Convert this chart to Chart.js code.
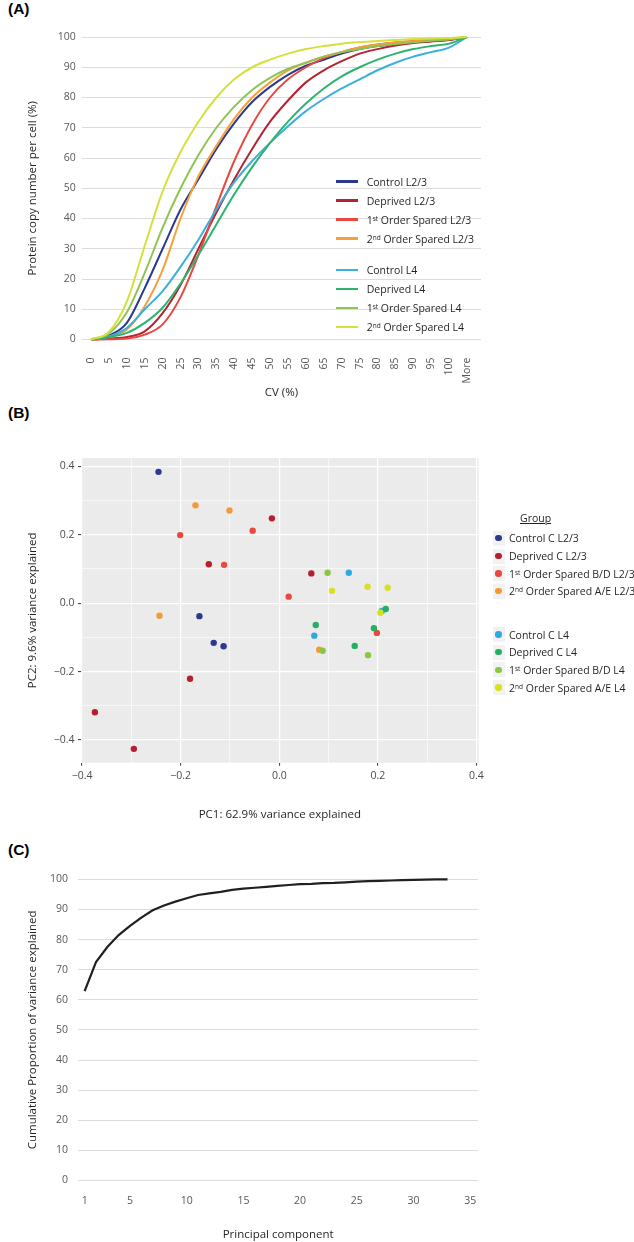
<!DOCTYPE html>
<html><head><meta charset="utf-8">
<script src="https://cdn.jsdelivr.net/npm/chart.js@4/dist/chart.umd.min.js"></script>
<style>
html,body{margin:0;padding:0;background:#fff;}
body{width:634px;height:1242px;overflow:hidden;position:relative;font-family:'Open Sans',sans-serif;color:#231F20;}
canvas{position:absolute;left:0;}
.plab{position:absolute;left:8px;font-family:'Liberation Sans',Arial,sans-serif;font-weight:bold;font-size:15.5px;line-height:18px;color:#000;}
.legrow{position:absolute;height:14px;display:flex;align-items:center;white-space:nowrap;font-size:10.5px;color:#231F20;}
.legrow .sw{display:inline-block;width:22px;height:2.5px;margin-right:8.7px;}
sup{font-size:6.5px;vertical-align:0;position:relative;top:-3px;}
.keybox{position:absolute;width:12px;height:15px;background:#F2F2F2;}
.keydot{position:absolute;width:6.4px;height:6.4px;border-radius:50%;left:2.8px;top:4.3px;}
.bleg{position:absolute;height:14px;line-height:14px;white-space:nowrap;font-size:10.5px;color:#231F20;}
</style>
</head><body>
<div class="plab" style="top:0px">(A)</div>
<div class="plab" style="top:404px">(B)</div>
<div class="plab" style="top:841px">(C)</div>
<canvas id="cA" width="634" height="410" style="top:0px"></canvas>
<canvas id="cB" width="634" height="390" style="top:440px"></canvas>
<canvas id="cC" width="634" height="382" style="top:860px"></canvas>
<div id="legA"></div>
<div id="legB"></div>
<script>
// ---------- Panel A data ----------
const cvLabels = ['0','5','10','15','20','25','30','35','40','45','50','55','60','65','70','75','80','85','90','95','100','More'];
const controlL23  = [0,1.3,5.5,17,30,43,53,63,71.5,78.5,83.5,87.5,90.5,92.5,94.5,96,97,97.8,98.3,98.7,99.1,100];
const deprivedL23 = [0,0.3,0.8,2.7,8.7,18,30,42,53,63,72,79,85,89,92,94.5,96,97.2,98,98.5,99,100];
const firstL23    = [0,0.1,0.3,1.6,5,14,28,44,59,71,80,86,90,93,95,96.5,97.5,98.2,98.7,99,99.3,100];
const secondL23   = [0,1,3.3,11,23,40,54,64,73,80,85,89,91.5,93.5,95,96.5,97.5,98.2,98.6,99,99.3,100];
const controlL4   = [0,1,3.8,10,16,24,33,43,52,59,65,70.5,75.5,79.5,83,86,89,91.5,93.5,95,96.5,100];
const deprivedL4  = [0,0.8,2.2,5.5,10.5,18.5,28,38,48,57,65,72,78,83,87,90,92.5,94.5,96,97,97.8,100];
const firstL4     = [0,2,9,22,37,50,61,70,77,82.5,86.5,89.5,91.5,93.5,95,96,97,97.7,98.3,98.8,99.2,100];
const secondL4    = [0,2.5,12.5,31,49,62,72,80,86,90,92.5,94.5,96,97,97.8,98.3,98.7,99,99.3,99.5,99.7,100];
const namesA = ['Control L2/3','Deprived L2/3','1st Order Spared L2/3','2nd Order Spared L2/3','Control L4','Deprived L4','1st Order Spared L4','2nd Order Spared L4'];

// ---------- Panel B data (PC1, PC2 per group) ----------
const pc1ControlL23  = [-0.245,-0.162,-0.133,-0.113];
const pc2ControlL23  = [0.384,-0.038,-0.116,-0.126];
const pc1DeprivedL23 = [-0.015,-0.143,0.065,-0.181,-0.374,-0.295];
const pc2DeprivedL23 = [0.248,0.114,0.087,-0.221,-0.319,-0.426];
const pc1FirstL23    = [-0.201,-0.054,-0.112,0.019,0.198];
const pc2FirstL23    = [0.199,0.212,0.112,0.019,-0.087];
const pc1SecondL23   = [-0.170,-0.101,-0.243,0.081];
const pc2SecondL23   = [0.286,0.271,-0.037,-0.136];
const pc1ControlL4   = [0.141,0.071,0.208];
const pc2ControlL4   = [0.089,-0.095,-0.023];
const pc1DeprivedL4  = [0.074,0.216,0.192,0.153];
const pc2DeprivedL4  = [-0.064,-0.017,-0.073,-0.125];
const pc1FirstL4     = [0.098,0.088,0.180];
const pc2FirstL4     = [0.089,-0.139,-0.152];
const pc1SecondL4    = [0.179,0.220,0.107,0.205];
const pc2SecondL4    = [0.048,0.045,0.036,-0.028];
const namesB = ['Control C L2/3','Deprived C L2/3','1st Order Spared B/D L2/3','2nd Order Spared A/E L2/3','Control C L4','Deprived C L4','1st Order Spared B/D L4','2nd Order Spared A/E L4'];
const pcaTickValues = [-0.4,-0.2,0,0.2,0.4];
const pcaTickLabels = ['\u22120.4','\u22120.2','0.0','0.2','0.4'];

// ---------- Panel C data ----------
const pcNumbers = [1,2,3,4,5,6,7,8,9,10,11,12,13,14,15,16,17,18,19,20,21,22,23,24,25,26,27,28,29,30,31,32,33];
const cumVariance = [62.9,72.5,77.5,81.5,84.5,87.3,89.7,91.3,92.6,93.7,94.8,95.3,95.8,96.5,96.9,97.2,97.5,97.8,98.1,98.4,98.5,98.7,98.8,99.0,99.2,99.4,99.5,99.6,99.7,99.8,99.9,100,100];
const pcTicks = [1,5,10,15,20,25,30,35];

// ---------- styling ----------
Chart.defaults.font.family = "'Open Sans', sans-serif";
const colA = ['#2B3A8F','#B52330','#E8483F','#F6A03A','#3AB0DC','#2DB36E','#8DC452','#D6E03D'];
const colB = ['#2B3990','#B5202E','#E84A3D','#F49A34','#2FA9E0','#26AE62','#8DC63F','#D9E021'];
const sup = s => s.replace(/^(\d)(st|nd)/, '$1<sup>$2</sup>');

// ---------- Chart A ----------
const seriesA = [controlL23,deprivedL23,firstL23,secondL23,controlL4,deprivedL4,firstL4,secondL4];
new Chart(document.getElementById('cA'), {
  type:'line',
  data:{datasets: seriesA.map((s,i)=>({
    label:namesA[i], data:s.map((v,j)=>({x:j,y:v})),
    borderColor:colA[i], borderWidth:2, pointRadius:0, fill:false,
    cubicInterpolationMode:'monotone', clip:false, order:-i
  }))},
  options:{
    responsive:false, animation:false, devicePixelRatio:1, events:[],
    layout:{padding:{left:0,right:153,top:37,bottom:8.5}},
    plugins:{legend:{display:false},tooltip:{enabled:false}},
    scales:{
      x:{type:'linear',min:-0.52,max:21.78,
        afterBuildTicks:s=>{s.ticks = cvLabels.map((_,i)=>({value:i}));},
        ticks:{callback:v=>cvLabels[v],minRotation:90,maxRotation:90,autoSkip:false,padding:18,color:'#595959',font:{size:10.5}},
        grid:{display:false,drawTicks:false}, border:{display:false},
        title:{display:true,text:'CV (%)',color:'#231F20',font:{size:11.5},padding:{top:0,bottom:1.6}},
        afterFit:s=>{s.height=62;}},
      y:{min:0,max:100,
        ticks:{stepSize:10,padding:6,color:'#595959',font:{size:10.5}},
        grid:{color:'#DCDCDC',drawTicks:false,lineWidth:1}, border:{display:false},
        title:{display:true,text:'Protein copy number per cell (%)',color:'#231F20',font:{size:11.5},padding:{top:26,bottom:0}},
        afterFit:s=>{s.width=81.7;}}
    }
  }
});
// legend A
(function(){
  const ys=[181.7,200.7,219.7,238.7,270,289,308,327];
  let h='';
  namesA.forEach((n,i)=>{
    h+=`<div class="legrow" style="left:336px;top:${ys[i]-7}px"><span class="sw" style="background:${colA[i]}"></span><span>${sup(n)}</span></div>`;
  });
  document.getElementById('legA').innerHTML=h;
})();

// ---------- Chart B ----------
const pc1B=[pc1ControlL23,pc1DeprivedL23,pc1FirstL23,pc1SecondL23,pc1ControlL4,pc1DeprivedL4,pc1FirstL4,pc1SecondL4];
const pc2B=[pc2ControlL23,pc2DeprivedL23,pc2FirstL23,pc2SecondL23,pc2ControlL4,pc2DeprivedL4,pc2FirstL4,pc2SecondL4];
const isMajor = v => Math.abs(Math.round(v*10)) % 2 === 0;
const minorTicks = [-0.4,-0.3,-0.2,-0.1,0,0.1,0.2,0.3,0.4];
const panelBg = {id:'panelBg', beforeDraw(c){const a=c.chartArea,x=c.ctx;x.save();x.fillStyle='#EBEBEB';x.fillRect(a.left,a.top,a.right-a.left,a.bottom-a.top);x.restore();}};
const lblB = v => { const k = pcaTickValues.findIndex(t=>Math.abs(t-v)<1e-9); return k>=0 ? pcaTickLabels[k] : ''; };
const gridB = {color:'#FFFFFF', lineWidth:c=>isMajor(c.tick.value)?1.2:0.6, drawTicks:true, tickLength:3, tickWidth:1,
  tickColor:c=>isMajor(c.tick.value)?'#333333':'rgba(0,0,0,0)'};
new Chart(document.getElementById('cB'), {
  type:'scatter',
  data:{datasets: pc1B.map((xs,i)=>({
    label:namesB[i], data:xs.map((x,j)=>({x:x,y:pc2B[i][j]})),
    backgroundColor:colB[i], borderColor:colB[i], borderWidth:0, pointRadius:3.2, order:-i
  }))},
  options:{
    responsive:false, animation:false, devicePixelRatio:1, events:[],
    layout:{padding:{left:0,right:155.3,top:18,bottom:7.3}},
    plugins:{legend:{display:false},tooltip:{enabled:false}},
    scales:{
      x:{type:'linear',min:-0.4022,max:0.4045,
        afterBuildTicks:s=>{s.ticks=minorTicks.map(v=>({value:v}));},
        ticks:{callback:v=>lblB(v),autoSkip:false,maxRotation:0,padding:4,color:'#4D4D4D',font:{size:10.5}},
        grid:gridB, border:{display:false},
        title:{display:true,text:'PC1: 62.9% variance explained',color:'#231F20',font:{size:11.5},padding:{top:0,bottom:0.8}},
        afterFit:s=>{s.height=60;}},
      y:{type:'linear',min:-0.4665,max:0.4245,
        afterBuildTicks:s=>{s.ticks=minorTicks.map(v=>({value:v}));},
        ticks:{callback:v=>lblB(v),autoSkip:false,padding:3.5,color:'#4D4D4D',font:{size:10.5}},
        grid:gridB, border:{display:false},
        title:{display:true,text:'PC2: 9.6% variance explained',color:'#231F20',font:{size:11.5},padding:{top:26,bottom:0}},
        afterFit:s=>{s.width=81;}}
    }
  },
  plugins:[panelBg]
});
// legend B
(function(){
  let h='<div class="bleg" style="left:520px;top:511px;text-decoration:underline;">Group</div>';
  const ys=[538.3,556,573.7,591.3,634.5,652.2,669.9,687.6];
  namesB.forEach((n,i)=>{
    h+=`<div class="keybox" style="left:492.5px;top:${ys[i]-7.5}px"><div class="keydot" style="background:${colB[i]}"></div></div>`;
    h+=`<div class="bleg" style="left:509px;top:${ys[i]-7}px">${sup(n)}</div>`;
  });
  document.getElementById('legB').innerHTML=h;
})();

// ---------- Chart C ----------
new Chart(document.getElementById('cC'), {
  type:'line',
  data:{datasets:[{label:'Cumulative', data:pcNumbers.map((p,i)=>({x:p,y:cumVariance[i]})),
    borderColor:'#231F20', borderWidth:2.2, pointRadius:0, fill:false, tension:0, clip:false}]},
  options:{
    responsive:false, animation:false, devicePixelRatio:1, events:[],
    layout:{padding:{left:0,right:156,top:19.3,bottom:0.1}},
    plugins:{legend:{display:false},tooltip:{enabled:false}},
    scales:{
      x:{type:'linear',min:0.44,max:35.69,
        afterBuildTicks:s=>{s.ticks=pcTicks.map(v=>({value:v}));},
        ticks:{autoSkip:false,maxRotation:0,padding:14,color:'#595959',font:{size:10.5}},
        grid:{display:false,drawTicks:false}, border:{display:false},
        title:{display:true,text:'Principal component',color:'#231F20',font:{size:11.5},padding:{top:0,bottom:0}},
        afterFit:s=>{s.height=61.4;}},
      y:{min:0,max:100,
        ticks:{stepSize:10,padding:10.3,color:'#595959',font:{size:10.5}},
        grid:{color:'#DCDCDC',drawTicks:false,lineWidth:1}, border:{display:false},
        title:{display:true,text:'Cumulative Proportion of variance explained',color:'#231F20',font:{size:11.5},padding:{top:26,bottom:0}},
        afterFit:s=>{s.width=78.3;}}
    }
  }
});
</script>
</body></html>
